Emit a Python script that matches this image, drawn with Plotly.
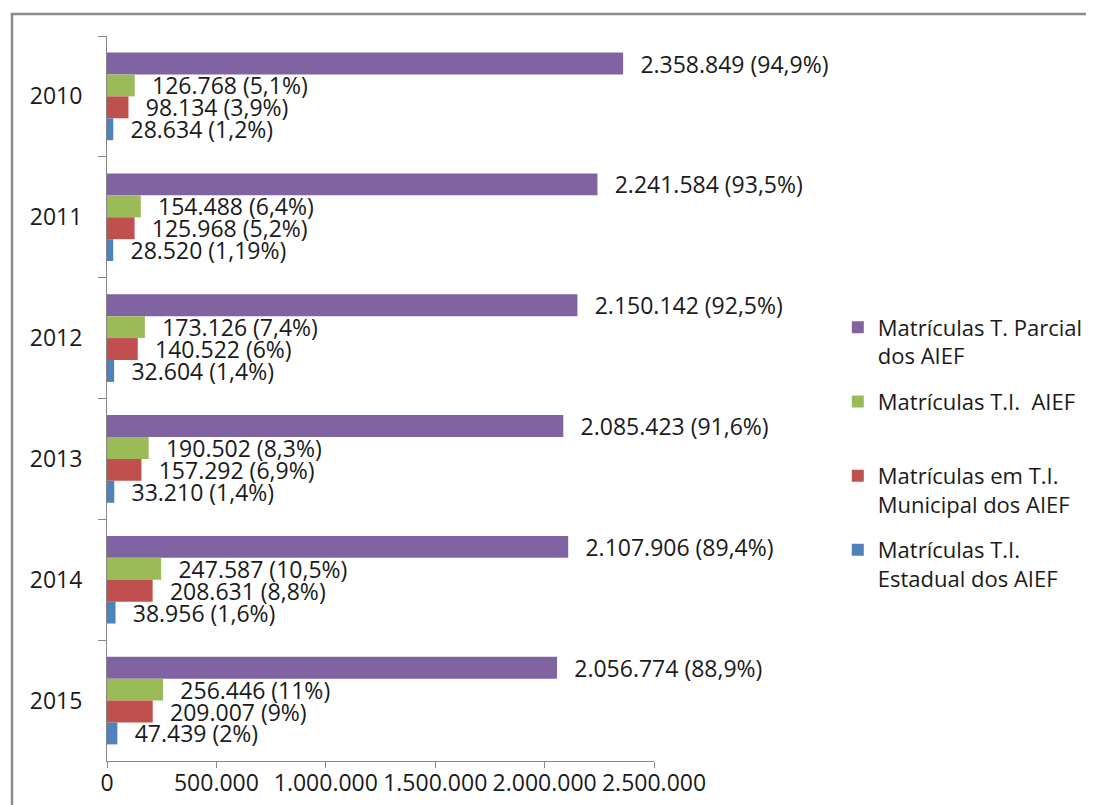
import plotly.graph_objects as go

years = ["2010", "2011", "2012", "2013", "2014", "2015"]

parcial = [2358849, 2241584, 2150142, 2085423, 2107906, 2056774]
parcial_pct = ["94,9%", "93,5%", "92,5%", "91,6%", "89,4%", "88,9%"]

ti_aief = [126768, 154488, 173126, 190502, 247587, 256446]
ti_aief_pct = ["5,1%", "6,4%", "7,4%", "8,3%", "10,5%", "11%"]

municipal = [98134, 125968, 140522, 157292, 208631, 209007]
municipal_pct = ["3,9%", "5,2%", "6%", "6,9%", "8,8%", "9%"]

estadual = [28634, 28520, 32604, 33210, 38956, 47439]
estadual_pct = ["1,2%", "1,19%", "1,4%", "1,4%", "1,6%", "2%"]

series_names = [
    "Matrículas T. Parcial<br>dos AIEF",
    "Matrículas T.I.  AIEF<br>\u00a0",
    "Matrículas em T.I.<br>Municipal dos AIEF",
    "Matrículas T.I.<br>Estadual dos AIEF",
]
colors = ["#8064A2", "#9BBB59", "#C0504D", "#4F81BD"]

FONT = "Open Sans"
FS = 23
LFS = 22
TXT = "#1a1a1a"
PAD = "\u00a0\u00a0\u200a"


def fmt(v):
    return f"{v:,}".replace(",", ".")


def labels(vals, pcts):
    return [f"{PAD}{fmt(v)} ({p})" for v, p in zip(vals, pcts)]


fig = go.Figure()
for i, (name, vals, pcts, col) in enumerate(zip(
        series_names,
        [parcial, ti_aief, municipal, estadual],
        [parcial_pct, ti_aief_pct, municipal_pct, estadual_pct],
        colors)):
    fig.add_trace(go.Bar(
        y=years, x=vals, orientation="h", name=name,
        marker=dict(color=col, line=dict(width=0)),
        text=labels(vals, pcts), textposition="outside",
        textfont=dict(family=FONT, size=FS, color=TXT),
        constraintext="none", cliponaxis=False,
        legendgroup=f"g{i}",
    ))

# page body has an 8px margin, so the figure is shrunk/shifted to compensate
fig.update_layout(
    width=1086, height=797,
    margin=dict(l=99, r=440, t=28, b=44, autoexpand=False),
    paper_bgcolor="white", plot_bgcolor="white",
    barmode="group", bargap=0.275, bargroupgap=0,
    separators=",.",
    font=dict(family=FONT, size=FS, color=TXT),
    legend=dict(
        x=1.336, xanchor="left", y=0.627, yanchor="top",
        valign="top", traceorder="grouped", tracegroupgap=14,
        font=dict(family=FONT, size=LFS, color=TXT),
        bgcolor="rgba(0,0,0,0)",
    ),
    showlegend=True,
)

fig.update_xaxes(
    range=[0, 2500000], tickvals=[0, 500000, 1000000, 1500000, 2000000, 2500000],
    tickformat=",d", showgrid=False, zeroline=False,
    showline=True, linecolor="#868686", linewidth=1,
    ticks="outside", ticklen=6, tickcolor="#868686",
    ticklabelstandoff=-5,
    tickfont=dict(family=FONT, size=FS, color=TXT),
)
fig.update_yaxes(
    type="category", range=[5.5, -0.5], showgrid=False, zeroline=False,
    showline=True, linecolor="#868686", linewidth=1,
    ticks="outside", ticklen=8, tickcolor="#868686", tickson="boundaries",
    ticklabelstandoff=19,
    tickfont=dict(family=FONT, size=FS, color=TXT),
)

fig.add_shape(
    type="rect", xref="paper", yref="paper",
    x0=-0.1737, x1=1.9, y0=-0.2, y1=1.0303,
    line=dict(color="#8c8c8c", width=2.5), fillcolor="rgba(0,0,0,0)",
    layer="below",
)

fig.write_html("out.html")
